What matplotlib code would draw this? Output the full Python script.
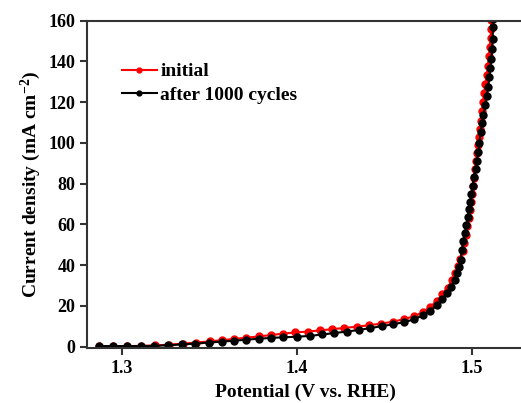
import matplotlib
matplotlib.use("Agg")
import matplotlib.pyplot as plt

# potential (V vs. RHE) and current density (mA cm^-2)
v_init = [1.287, 1.295, 1.303, 1.311, 1.319, 1.327, 1.335, 1.342, 1.350, 1.357,
          1.364, 1.371, 1.378, 1.385, 1.392, 1.399, 1.406, 1.413, 1.420, 1.427,
          1.434, 1.441, 1.448, 1.455, 1.461, 1.467, 1.472, 1.476, 1.480, 1.483,
          1.486, 1.4885, 1.4905, 1.492, 1.4933, 1.4945, 1.4955, 1.4963, 1.4972, 1.4980,
          1.4986, 1.4992, 1.4998, 1.5005, 1.5010, 1.5016, 1.5022, 1.5028, 1.5033, 1.5038,
          1.5044, 1.5050, 1.5056, 1.5062, 1.5068, 1.5076, 1.5084, 1.5090, 1.5095, 1.5100,
          1.5105, 1.5108, 1.5110]
j_init = [0.3, 0.3, 0.3, 0.4, 0.6, 1.0, 1.5, 2.0, 2.6, 3.2,
          3.8, 4.4, 5.0, 5.7, 6.4, 7.0, 7.4, 8.0, 8.6, 9.2,
          9.8, 10.5, 11.3, 12.3, 13.5, 15.0, 17.0, 19.5, 22.5, 25.7,
          29.0, 32.5, 36.0, 39.5, 43.0, 47.0, 51.0, 55.0, 59.0, 63.0,
          67.0, 71.0, 75.0, 79.0, 83.0, 87.0, 91.0, 95.0, 99.0, 103.0,
          107.0, 111.0, 115.5, 120.0, 124.5, 129.0, 133.5, 138.0, 142.5, 147.0,
          151.5, 156.0, 160.5]

v_after = [1.2870, 1.2949, 1.3029, 1.3107, 1.3185, 1.3263, 1.3343, 1.3419, 1.3495, 1.3570,
           1.3638, 1.3707, 1.3780, 1.3850, 1.3920, 1.4002, 1.4074, 1.4145, 1.4213, 1.4284,
           1.4353, 1.4417, 1.4484, 1.4550, 1.4613, 1.4670, 1.4718, 1.4760, 1.4798, 1.4829,
           1.4859, 1.4882, 1.4901, 1.4916, 1.4927, 1.4935, 1.4941, 1.4950, 1.4959, 1.4967,
           1.4975, 1.4982, 1.4988, 1.4995, 1.5003, 1.5010, 1.5020, 1.5027, 1.5035, 1.5042,
           1.5048, 1.5056, 1.5064, 1.5076, 1.5083, 1.5091, 1.5099, 1.5103, 1.5110, 1.5114,
           1.5117, 1.5119, 1.5120]
j_after = [0.3, 0.3, 0.3, 0.3, 0.4, 0.7, 1.1, 1.5, 2.0, 2.5,
           2.9, 3.4, 3.9, 4.3, 4.6, 4.9, 5.3, 6.0, 6.7, 7.4,
           8.2, 9.1, 10.1, 11.0, 12.1, 13.4, 15.4, 17.7, 20.3, 23.3,
           26.2, 29.4, 32.7, 36.0, 39.0, 42.5, 47.5, 52.0, 55.7, 59.6,
           63.8, 67.7, 71.0, 74.9, 78.9, 83.1, 87.1, 91.3, 95.6, 100.1,
           105.5, 109.6, 113.7, 118.5, 123.0, 127.6, 132.2, 136.6, 141.1, 146.0,
           151.0, 157.0, 161.0]

labels = ["initial", "after 1000 cycles"]

plt.rcParams['font.family'] = ['Liberation Serif', 'DejaVu Serif']
plt.rcParams['font.weight'] = 'bold'
plt.rcParams['mathtext.fontset'] = 'custom'
plt.rcParams['mathtext.rm'] = 'Liberation Serif:bold'
plt.rcParams['mathtext.default'] = 'rm'

fig = plt.figure(figsize=(5.21, 4.03), dpi=100)
ax = fig.add_axes([0.167, 0.1357, 0.840, 0.8129])

ax.plot(v_init, j_init, '-o', color='red', lw=1.5, ms=5, label=labels[0])
ax.plot(v_after, j_after, '-o', color='black', lw=1.5, ms=5, label=labels[1])

ax.set_xlim(1.28, 1.53)
ax.set_ylim(-0.8, 160)
ax.set_xticks([1.3, 1.4, 1.5])
ax.set_yticks(range(0, 161, 20))

for s in ax.spines.values():
    s.set_linewidth(1.5)
    s.set_color('#333333')
ax.tick_params(direction='out', length=5, width=1.5, labelsize=13, color='#333333')

ax.set_xlabel("Potential (V vs. RHE)", fontsize=14, fontweight='bold', labelpad=5)
ax.set_ylabel("Current density (mA cm$^{-2}$)", fontsize=14, fontweight='bold', labelpad=4)

leg = ax.legend(loc='upper left', bbox_to_anchor=(0.039, 0.925), frameon=False,
                fontsize=14, handlelength=1.8, handletextpad=0.2, markerscale=0.7,
                labelspacing=0.3)

fig.savefig("out.png", dpi=100)
